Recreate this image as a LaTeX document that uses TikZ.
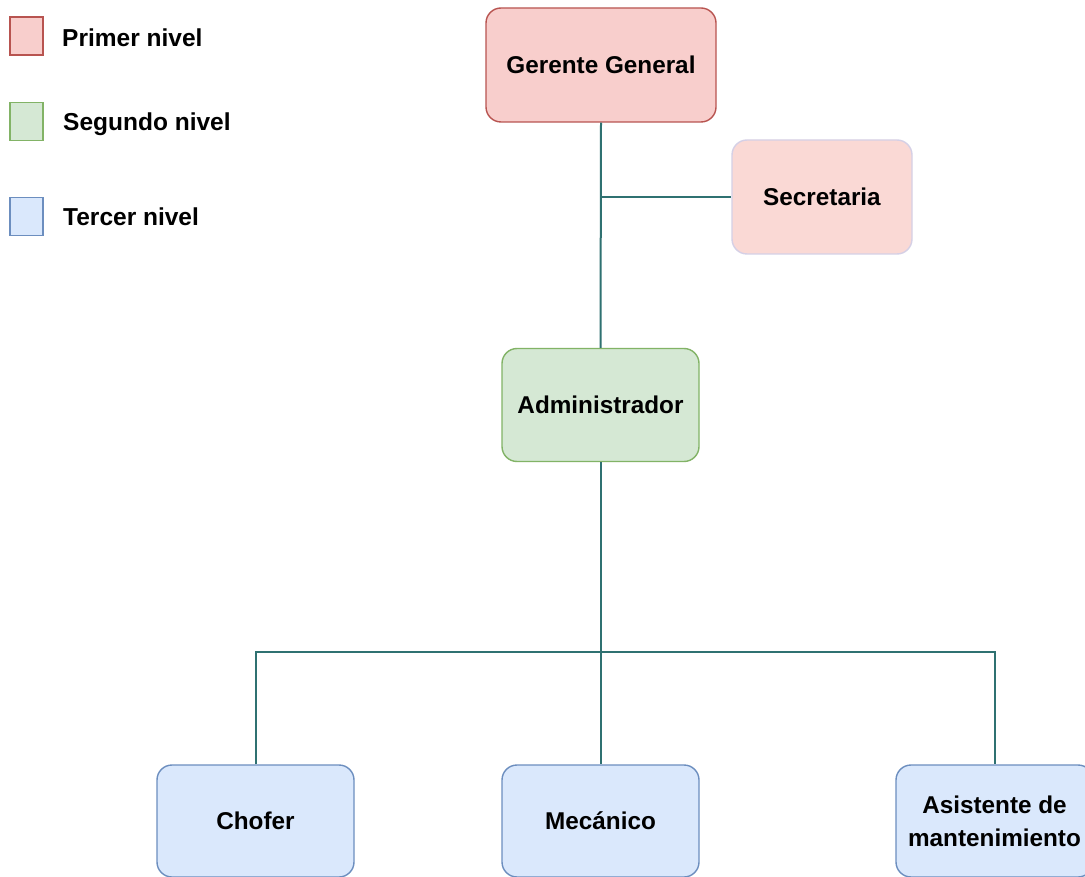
\documentclass[tikz,border=0pt]{standalone}
\usepackage{fontspec}
\setmainfont{Liberation Sans}
\definecolor{redfill}{HTML}{F8CECC}
\definecolor{redline}{HTML}{B85450}
\definecolor{secfill}{HTML}{FAD9D5}
\definecolor{secline}{HTML}{D5D0E6}
\definecolor{greenfill}{HTML}{D5E8D4}
\definecolor{greenline}{HTML}{82B366}
\definecolor{bluefill}{HTML}{DAE8FC}
\definecolor{blueline}{HTML}{6C8EBF}
\definecolor{conn}{HTML}{2F7171}
\tikzset{
  box/.style={rounded corners=15pt, line width=1.4pt, minimum width=197pt, minimum height=113pt,
    inner sep=0pt, align=center, font=\fontsize{24.3}{33}\selectfont\bfseries},
  lvl1/.style={box, fill=redfill, draw=redline},
  sec/.style={box, fill=secfill, draw=secline, minimum width=180pt},
  lvl2/.style={box, fill=greenfill, draw=greenline},
  lvl3/.style={box, fill=bluefill, draw=blueline},
  legbox/.style={line width=1.4pt, minimum width=33pt, minimum height=38pt, inner sep=0pt},
  legtxt/.style={anchor=west, inner sep=0pt, font=\fontsize{24.5}{28}\selectfont\bfseries},
  link/.style={draw=conn, line width=2pt}
}
\begin{document}
\begin{tikzpicture}[x=1pt,y=-1pt]
\clip (0,0) rectangle (1085,877);
\fill[white] (0,0) rectangle (1085,877);
% legend
\node[legbox, fill=redfill, draw=redline] (l1) at (26.5,36) {};
\node[legbox, fill=greenfill, draw=greenline] (l2) at (26.5,121.5) {};
\node[legbox, fill=bluefill, draw=blueline] (l3) at (26.5,216.5) {};
\node[legtxt] (t1) at (62,38) {Primer nivel};
\node[legtxt] (t2) at (63,124) {Segundo nivel};
\node[legtxt] (t3) at (63,217) {Tercer nivel};
% nodes
\node[lvl1, minimum width=230pt, minimum height=114pt] (gg) at (601,65) {\raisebox{-2pt}{Gerente General}};
\node[sec, minimum height=114pt] (sec) at (822,197) {Secretaria};
\node[lvl2] (adm) at (600.5,405) {\raisebox{-1pt}{Administrador}};
\node[lvl3, minimum height=112pt] (cho) at (255.5,821) {\raisebox{-2pt}{Chofer}};
\node[lvl3, minimum height=112pt] (mec) at (600.5,821) {\raisebox{-2pt}{Mecánico}};
\node[lvl3, minimum height=112pt] (asi) at (994.5,821) {Asistente de\\mantenimiento};
% connectors
\coordinate (j1) at (gg.south |- sec.west);
\coordinate (j2) at (mec.north |- 0,652);
\draw[link] (gg.south) -- (adm.north);
\draw[link] (j1) -- (sec.west);
\draw[link] (adm.south) -- (mec.north);
\draw[link] (cho.north) -- (cho.north |- j2) -- (asi.north |- j2) -- (asi.north);
\end{tikzpicture}
\end{document}
